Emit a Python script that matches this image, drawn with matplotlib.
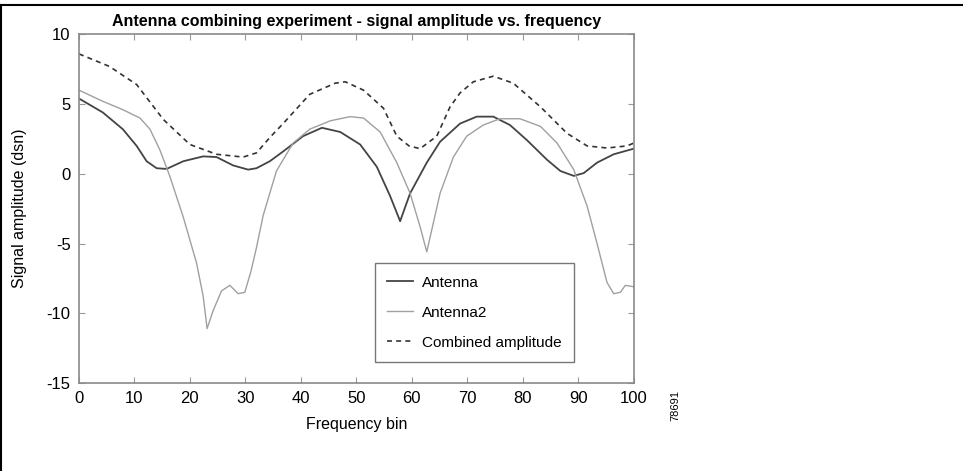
import matplotlib
matplotlib.use("Agg")
import matplotlib.pyplot as plt
from matplotlib.lines import Line2D

plt.rcParams['font.family'] = ['Liberation Sans', 'DejaVu Sans']
plt.rcParams['axes.unicode_minus'] = False

# values
ant1_x = [0, 4.3, 7.9, 10.4, 12.2, 14, 15.8, 18.8, 22.4, 24.8, 27.8, 30.5, 32, 34.4,
          36.8, 40.4, 43.8, 47.1, 50.7, 53.7, 56.1, 57.9, 59.7, 62.7, 65.1, 68.7,
          71.7, 74.7, 77.7, 80.8, 84.4, 86.8, 89.2, 91, 93.4, 96.4, 100]
ant1_y = [5.4, 4.4, 3.2, 2.0, 0.9, 0.4, 0.35, 0.9, 1.25, 1.2, 0.6, 0.3, 0.4, 0.9,
          1.6, 2.7, 3.3, 3.0, 2.1, 0.5, -1.6, -3.4, -1.4, 0.8, 2.3, 3.6,
          4.1, 4.1, 3.5, 2.4, 1.0, 0.2, -0.15, 0.05, 0.8, 1.4, 1.8]

ant2_x = [0, 4.3, 7.9, 11, 12.8, 14.6, 16.4, 18.8, 21.2, 22.4, 23.1, 24.2, 25.7,
          27.2, 28.7, 29.9, 31, 32, 33.2, 34.4, 35.6, 38.6, 41.6, 45.3, 48.9, 51.3,
          54.3, 57.3, 59.7, 61.5, 62.7, 63.9, 65.1, 67.5, 69.9, 72.9, 75.9, 79.5,
          83.2, 86.2, 89.2, 91.6, 93.4, 95.2, 96.4, 97.6, 98.5, 100]
ant2_y = [6.0, 5.2, 4.6, 4.0, 3.2, 1.7, -0.2, -3.1, -6.4, -8.8, -11.1, -9.8, -8.4,
          -8.0, -8.6, -8.5, -7.0, -5.3, -3.0, -1.4, 0.2, 2.2, 3.2, 3.8, 4.1, 4.0,
          3.0, 0.8, -1.4, -3.8, -5.6, -3.5, -1.4, 1.2, 2.7, 3.5, 3.95, 3.95,
          3.4, 2.2, 0.3, -2.3, -5.0, -7.8, -8.6, -8.5, -8.0, -8.1]

comb_x = [0, 5.5, 10.4, 15.2, 20, 24.8, 29.6, 32, 34.4, 36.8, 41.6, 46.2, 48, 51.3,
          54.9, 57.3, 59.5, 61.5, 64.5, 66.9, 68.7, 71.1, 74.7, 78.3, 83.2, 88,
          91.6, 95.2, 98.8, 100]
comb_y = [8.6, 7.7, 6.4, 3.9, 2.1, 1.4, 1.2, 1.5, 2.6, 3.6, 5.7, 6.5, 6.6, 6.0,
          4.7, 2.7, 2.0, 1.8, 2.7, 4.8, 5.8, 6.6, 7.0, 6.5, 4.8, 2.9,
          2.0, 1.85, 2.0, 2.2]

labels = ['Antenna', 'Antenna2', 'Combined amplitude']
x_ticks = list(range(0, 101, 10))
y_ticks = [-15, -10, -5, 0, 5, 10]

fig = plt.figure(figsize=(9.63, 4.71), dpi=100)
ax = fig.add_axes([0.082, 0.187, 0.576, 0.740])

ax.plot(ant1_x, ant1_y, color='#444444', lw=1.3, label=labels[0])
ax.plot(ant2_x, ant2_y, color='#a0a0a0', lw=1.0, label=labels[1])
ax.plot(comb_x, comb_y, color='#333333', lw=1.2, ls=(0, (3, 2.5)), label=labels[2])

ax.set_xlim(0, 100)
ax.set_ylim(-15, 10)
ax.set_xticks(x_ticks)
ax.set_yticks(y_ticks)
ax.tick_params(direction='in', top=True, right=True, length=4, color='#999999',
               labelsize=12, pad=6)
for s in ax.spines.values():
    s.set_color('#8a8a8a')
    s.set_linewidth(1.2)

ax.set_xlabel('Frequency bin', fontsize=11.5, labelpad=8)
ax.set_ylabel('Signal amplitude (dsn)', fontsize=11.5, labelpad=14)
ax.set_title('Antenna combining experiment - signal amplitude vs. frequency',
             fontsize=11.5, fontweight='bold', pad=6)

leg = ax.legend(loc='lower left', bbox_to_anchor=(0.533, 0.06), frameon=True,
                fancybox=False, edgecolor='#555555', fontsize=11,
                handlelength=1.7, handletextpad=0.6, borderpad=0.8,
                labelspacing=1.05, borderaxespad=0)
leg.get_frame().set_linewidth(1.0)

fig.text(0.701, 0.14, '78691', rotation=90, fontsize=8, ha='center', va='center')

# frame lines on the left and top of the picture
fig.add_artist(Line2D([0.0015, 0.0015], [0, 0.99], color='black', lw=1.5))
fig.add_artist(Line2D([0, 1], [0.99, 0.99], color='black', lw=1.5))

fig.savefig('out.png', dpi=100)
